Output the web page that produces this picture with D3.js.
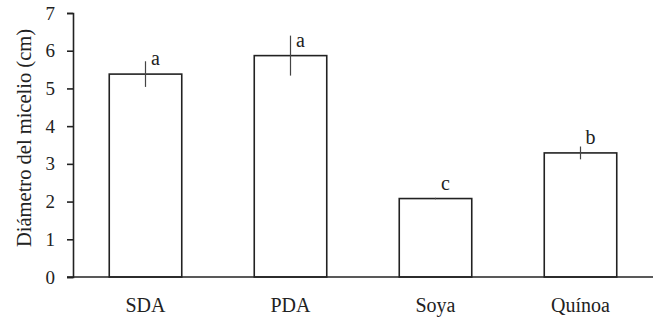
<!DOCTYPE html>
<html>
<head>
<meta charset="utf-8">
<script src="https://cdn.jsdelivr.net/npm/d3@7"></script>
<style>
  body { margin: 0; background: #fff; }
  text { font-family: "Liberation Serif", "Times New Roman", serif; fill: #222; }
</style>
</head>
<body>
<svg id="chart" width="653" height="320" viewBox="0 0 653 320"></svg>
<script>
// data
const categories = ["SDA", "PDA", "Soya", "Quínoa"];
const means = [5.38, 5.87, 2.08, 3.29];
const errors = [0.34, 0.53, 0.02, 0.17];
const letters = ["a", "a", "c", "b"];
const yTicks = [0, 1, 2, 3, 4, 5, 6, 7];

const svg = d3.select("#chart");
const width = 653;

const y = d3.scaleLinear().domain([0, 7]).range([277, 13]);
const x = d3
  .scaleBand()
  .domain(categories)
  .range([73, width])
  .paddingInner(0.5)
  .paddingOuter(0.25);

const rows = categories.map((c, i) => ({
  cat: c,
  mean: means[i],
  err: errors[i],
  letter: letters[i],
}));

// y axis
const yAxis = svg
  .append("g")
  .attr("transform", "translate(73,0)")
  .call(
    d3.axisLeft(y)
      .tickValues(yTicks)
      .tickFormat(d3.format("d"))
      .tickSize(6)
      .tickSizeOuter(6)
      .tickPadding(12)
  );
yAxis.selectAll("path, line").attr("stroke", "#222").attr("stroke-width", 1.6);
yAxis.selectAll("text").attr("font-size", 19).attr("font-family", "Liberation Serif").attr("fill", "#222");

// bars
svg
  .append("g")
  .selectAll("rect")
  .data(rows)
  .enter()
  .append("rect")
  .attr("x", (d) => x(d.cat))
  .attr("y", (d) => y(d.mean))
  .attr("width", x.bandwidth())
  .attr("height", (d) => y(0) - y(d.mean))
  .attr("fill", "#fff")
  .attr("stroke", "#222")
  .attr("stroke-width", 1.6);

// error bars
svg
  .append("g")
  .selectAll("line")
  .data(rows)
  .enter()
  .append("line")
  .attr("x1", (d) => x(d.cat) + x.bandwidth() / 2)
  .attr("x2", (d) => x(d.cat) + x.bandwidth() / 2)
  .attr("y1", (d) => y(d.mean + d.err))
  .attr("y2", (d) => y(d.mean - d.err))
  .attr("stroke", "#444")
  .attr("stroke-width", 1.2);

// significance letters
svg
  .append("g")
  .selectAll("text")
  .data(rows)
  .enter()
  .append("text")
  .attr("x", (d) => x(d.cat) + x.bandwidth() / 2 + 10)
  .attr("y", (d) => y(d.mean + 0.23))
  .attr("text-anchor", "middle")
  .attr("font-size", 20)
  .text((d) => d.letter);

// x axis baseline
svg
  .append("line")
  .attr("x1", 67)
  .attr("x2", width)
  .attr("y1", y(0))
  .attr("y2", y(0))
  .attr("stroke", "#222")
  .attr("stroke-width", 1.6);

const xAxis = svg
  .append("g")
  .attr("transform", `translate(0,${y(0)})`)
  .call(d3.axisBottom(x).tickSize(0));
xAxis.select(".domain").remove();
xAxis
  .selectAll("text")
  .attr("y", 34.5)
  .attr("dy", 0)
  .attr("font-size", 20)
  .attr("font-family", "Liberation Serif")
  .attr("fill", "#222");

// y title
svg
  .append("text")
  .attr("transform", "translate(31,138) rotate(-90)")
  .attr("text-anchor", "middle")
  .attr("font-size", 20.5)
  .text("Diámetro del micelio (cm)");
</script>
</body>
</html>
